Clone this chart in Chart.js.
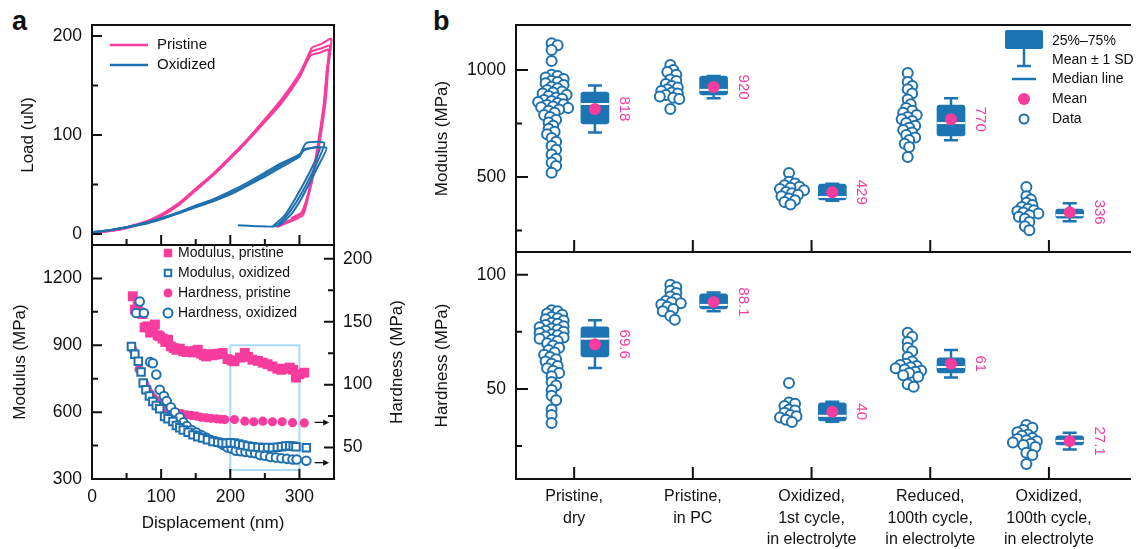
<!DOCTYPE html>
<html>
<head>
<meta charset="utf-8">
<script src="https://cdn.jsdelivr.net/npm/chart.js@4/dist/chart.umd.min.js"></script>
<style>
  html, body { margin: 0; padding: 0; background: #fff; }
  body { width: 1137px; height: 549px; position: relative; overflow: hidden; font-family: "Liberation Sans", Arial, sans-serif; }
  canvas { position: absolute; }
  .tag { position: absolute; font-weight: bold; font-size: 27px; line-height: 27px; color: #111; }
</style>
</head>
<body>
<div class="tag" style="left:12px;top:8px">a</div>
<div class="tag" style="left:433px;top:8px">b</div>
<canvas id="loadChart" width="345" height="275" style="left:0;top:0"></canvas>
<canvas id="depthChart" width="420" height="334" style="left:0;top:215px"></canvas>
<canvas id="modulusChart" width="717" height="282" style="left:420px;top:0"></canvas>
<canvas id="hardnessChart" width="717" height="327" style="left:420px;top:222px"></canvas>
<script>
const pink = '#f73c9d';
const blue = '#1f70ae';
const boxBlue = '#1c74b3';
const zoomBlue = '#a9dbf4';
const FONT = '"Liberation Sans", Arial, Helvetica, sans-serif';

// ---- panel a, top: load-displacement runs [nm, uN] ----
const pristineRun1 = [[0,1],[25,3],[50,7],[75,12],[100,19],[125,30],[150,45],[175,60],[200,77],[225,95],[250,115],[275,135],[300,160],[318,188],[332,192],[346,197],[342,170],[338,135],[331,100],[322,65],[313,38],[305,19],[285,12],[267,7]];
const pristineRun2 = [[0,1],[25,3],[50,7],[75,12],[100,20],[125,31],[150,46],[175,61],[200,78],[225,96],[250,116],[275,137],[300,162],[317,184],[330,187],[344,190],[340,165],[336,132],[329,98],[321,64],[312,38],[304,21],[286,14],[270,9]];
const pristineRun3 = [[0,1],[25,3],[50,6],[75,11],[100,18],[125,29],[150,44],[175,59],[200,76],[225,94],[250,113],[275,133],[300,158],[316,180],[329,183],[342,186],[339,162],[335,130],[328,97],[320,63],[311,37],[303,22],[288,16]];
const oxidizedRun1 = [[0,2],[25,4],[50,7],[75,11],[100,16],[125,21],[150,28],[175,34],[200,41],[225,50],[250,60],[275,70],[300,80],[310,92],[336,92],[324,70],[310,50],[297,34],[281,18],[265,8],[240,8],[211,9]];
const oxidizedRun2 = [[0,2],[25,4],[50,7],[75,11],[100,16],[125,22],[150,29],[175,35],[200,43],[225,52],[250,62],[275,72],[302,81],[308,86],[339,87],[328,70],[315,52],[303,36],[288,20],[270,8]];
const oxidizedRun3 = [[0,2],[25,4],[50,7],[75,10],[100,15],[125,21],[150,27],[175,33],[200,40],[225,49],[250,58],[275,68],[300,78],[305,84],[330,88],[320,70],[307,52],[294,36],[280,20],[262,8]];

// ---- panel a, bottom: modulus / hardness vs displacement [nm, MPa] ----
const modPristine = [[59,1120],[62,1060],[66,1075],[69,1047],[73,1040],[76,980],[80,985],[84,957],[88,975],[91,993],[95,945],[98,940],[102,930],[106,915],[110,925],[114,895],[118,888],[122,880],[127,885],[132,873],[137,870],[141,873],[146,868],[150,875],[153,880],[158,862],[162,855],[165,850],[170,860],[174,855],[177,858],[182,862],[186,860],[189,865],[196,838],[202,832],[206,828],[214,845],[221,866],[226,848],[232,835],[240,830],[247,822],[254,815],[261,805],[268,795],[274,790],[280,795],[286,800],[291,790],[295,755],[300,770],[307,777]];
const modOxidized = [[57,895],[62,860],[67,828],[71,780],[74,731],[78,700],[83,672],[88,648],[93,630],[98,615],[105,580],[110,570],[117,558],[122,540],[127,530],[132,520],[139,510],[146,498],[153,490],[160,484],[167,476],[175,468],[182,465],[188,462],[194,460],[200,463],[206,462],[212,457],[218,453],[225,448],[232,445],[240,442],[247,440],[254,441],[261,440],[268,443],[274,445],[280,448],[286,449],[291,447],[295,445],[310,440]];
const hardPristine = [[59,128],[68,112],[76,101],[80,97],[84,93],[88,90],[91,88],[96,85],[100,83],[105,81],[110,79],[116,78],[122,77.5],[129,77],[137,76],[144,75.5],[151,75],[158,74],[165,73.6],[172,73.2],[180,72.8],[186,72.5],[192,72.2],[206,72.2],[221,71],[234,70.5],[247,71],[261,70.5],[275,70.5],[290,69.8],[307,69.6]];
const hardOxidized = [[64,157],[69,166],[75,157],[84,118],[88,117],[93,108],[98,96],[104,91],[108,87],[114,82],[120,78],[127,74],[132,70],[137,67],[144,64],[151,62],[158,60],[165,58],[172,56],[178,55],[184,54],[190,52],[196,50],[202,49],[208,47.5],[215,47],[222,46.5],[229,46],[236,45.5],[243,44],[250,43.5],[258,42.5],[266,42],[274,41.5],[282,41],[290,40.5],[296,40.5],[310,39.5]];
const zoomWindow = { disp: [200, 300], modulus: [340, 900] };
const hardnessArrows = [70, 38];

// ---- panel a ticks ----
const dispTicks = [0, 100, 200, 300];
const dispMinor = [50, 150, 250];
const loadTicks = [0, 100, 200];
const loadMinor = [50, 150];
const modTicksA = [300, 600, 900, 1200];
const modMinorA = [450, 750, 1050];
const hardTicksA = [50, 100, 150, 200];
const hardMinorA = [75, 125, 175];

// ---- panel b: categories and statistics ----
const categories = [['Pristine,', 'dry'], ['Pristine,', 'in PC'], ['Oxidized,', '1st cycle,', 'in electrolyte'], ['Reduced,', '100th cycle,', 'in electrolyte'], ['Oxidized,', '100th cycle,', 'in electrolyte']];
const modulusData = [
  [1125, 1115, 1093, 1042, 978, 972, 965, 958, 950, 944, 938, 930, 922, 915, 906, 900, 895, 890, 884, 878, 872, 866, 860, 855, 850, 846, 840, 836, 830, 826, 822, 816, 810, 800, 790, 780, 768, 755, 740, 725, 712, 700, 682, 665, 645, 628, 605, 585, 568, 552, 520],
  [1023, 1000, 990, 978, 955, 948, 935, 925, 918, 910, 902, 895, 890, 883, 876, 870, 864, 818],
  [519, 478, 470, 462, 455, 450, 444, 438, 430, 424, 417, 410, 400, 392, 383, 372],
  [986, 944, 925, 910, 890, 862, 840, 822, 810, 800, 790, 780, 770, 762, 752, 740, 730, 720, 708, 696, 685, 673, 655, 640, 594],
  [453, 410, 395, 380, 370, 360, 352, 345, 340, 335, 330, 322, 315, 305, 290, 270, 252]
];
const modulusMean = [818, 920, 429, 770, 336];
const modulusSD = [110, 52, 40, 98, 42];
const modulusQ1 = [748, 883, 393, 692, 308];
const modulusQ3 = [897, 972, 467, 836, 350];
const modulusMedian = [841, 907, 407, 752, 322];
const modulusTicks = [500, 1000];
const modulusMinor = [250, 750];

const hardnessData = [
  [84.5, 84, 83, 82.5, 81.5, 81, 80.5, 80, 79, 78.5, 78, 77.5, 77, 76.5, 76, 75.5, 75, 74.5, 74, 73.5, 73, 72.5, 72, 71.5, 71, 70, 69, 68, 67, 66, 65, 64, 63, 62, 61, 60, 59, 58, 57, 55.5, 53, 51.5, 49.5, 47, 45, 41, 38.5, 35],
  [95.6, 94.5, 93, 92, 90.5, 89.5, 88.5, 88, 87.5, 87, 86, 85, 84, 82, 80.3],
  [52.6, 44, 43.5, 42.5, 41, 40.5, 39.5, 38.5, 38, 37.5, 36.5, 35.5],
  [74.6, 72.8, 70.5, 68, 66.5, 64, 62, 61, 60.5, 60, 59.5, 59, 58.5, 58, 57.5, 57, 56, 55.3, 52, 50.9],
  [34.2, 33, 32, 31, 30, 29.5, 28.5, 28, 27.5, 27, 26.5, 26, 25.4, 24.5, 22, 21, 17.1]
];
const hardnessMean = [69.6, 88.1, 40, 61, 27.1];
const hardnessSD = [10.5, 4.1, 4.4, 6, 3.7];
const hardnessQ1 = [64, 85, 36, 57, 25.4];
const hardnessQ3 = [77.2, 91.7, 43.9, 63.6, 29.4];
const hardnessMedian = [72, 86.8, 38.2, 59.6, 27.2];
const hardnessTicks = [50, 100];
const hardnessMinor = [25, 75];

const swarmShift = -0.19;
const boxShift = 0.175;
const labelShift = 0.42;

// frame + inward ticks
const framePlugin = {
  id: 'frame',
  afterDraw(chart, args, o) {
    const { ctx, chartArea: a } = chart;
    ctx.save();
    ctx.strokeStyle = '#111';
    ctx.lineWidth = 2;
    ctx.beginPath();
    const s = o.sides || 'tlbr';
    if (s.includes('t')) { ctx.moveTo(a.left - 1, a.top); ctx.lineTo(a.right + 1, a.top); }
    if (s.includes('b')) { ctx.moveTo(a.left - 1, a.bottom); ctx.lineTo(a.right + 1, a.bottom); }
    if (s.includes('l')) { ctx.moveTo(a.left, a.top - 1); ctx.lineTo(a.left, a.bottom + 1); }
    if (s.includes('r')) { ctx.moveTo(a.right, a.top - 1); ctx.lineTo(a.right, a.bottom + 1); }
    (o.ticks || []).forEach(t => {
      const sc = chart.scales[t.scale];
      [[t.major, o.major || 10], [t.minor || [], o.minor || 6]].forEach(([vals, len]) => vals.forEach(v => {
        const p = sc.getPixelForValue(v);
        if (t.edge === 'bottom') { ctx.moveTo(p, a.bottom); ctx.lineTo(p, a.bottom - len); }
        if (t.edge === 'left') { ctx.moveTo(a.left, p); ctx.lineTo(a.left + len, p); }
        if (t.edge === 'right') { ctx.moveTo(a.right, p); ctx.lineTo(a.right - len, p); }
      }));
    });
    ctx.stroke();
    ctx.restore();
  }
};

const tickFont = { family: FONT, size: 17.5 };
const titleFont = { family: FONT, size: 17 };
const setTicks = arr => scale => { scale.ticks = arr.map(v => ({ value: v })); };
const plain = v => String(v);
const noGrid = { display: false, drawTicks: false };

function legendText(ctx, text, x, y, size) {
  ctx.fillStyle = '#111';
  ctx.font = size + 'px ' + FONT;
  ctx.textAlign = 'left';
  ctx.textBaseline = 'middle';
  ctx.fillText(text, x, y);
}

// ---------------- panel a top ----------------
const runStyle = (data, color) => ({
  data: data.map(([x, y]) => ({ x, y })), showLine: true, borderColor: color, borderWidth: 2,
  pointRadius: 0, tension: 0.2, fill: false
});
new Chart(document.getElementById('loadChart'), {
  type: 'scatter',
  data: { datasets: [
    runStyle(oxidizedRun1, blue), runStyle(oxidizedRun2, blue), runStyle(oxidizedRun3, blue),
    runStyle(pristineRun1, pink), runStyle(pristineRun2, pink), runStyle(pristineRun3, pink)
  ] },
  options: {
    responsive: false, animation: false, events: [],
    layout: { padding: { top: 25, right: 11, bottom: 30, left: 0 } },
    plugins: {
      legend: { display: false }, tooltip: { enabled: false },
      frame: { ticks: [{ scale: 'x', edge: 'bottom', major: dispTicks, minor: dispMinor }, { scale: 'y', edge: 'left', major: loadTicks, minor: loadMinor }] }
    },
    scales: {
      x: { type: 'linear', min: 0, max: 350, display: false },
      y: {
        min: -11, max: 211, grid: noGrid, border: { display: false },
        afterBuildTicks: setTicks(loadTicks), afterFit: s => { s.width = 92; },
        ticks: { font: tickFont, color: '#111', padding: 10, callback: plain },
        title: { display: true, text: 'Load (uN)', font: titleFont, color: '#111', padding: { top: 18, bottom: 0 } }
      }
    }
  },
  plugins: [framePlugin, {
    id: 'loadLegend',
    afterDraw(chart) {
      const ctx = chart.ctx;
      [['Pristine', pink, 45], ['Oxidized', blue, 65]].forEach(([t, c, y]) => {
        ctx.save();
        ctx.strokeStyle = c; ctx.lineWidth = 2.5;
        ctx.beginPath(); ctx.moveTo(110, y); ctx.lineTo(148, y); ctx.stroke();
        legendText(ctx, t, 157, y, 15);
        ctx.restore();
      });
    }
  }]
});

// ---------------- panel a bottom ----------------
const depthSets = [
  { label: 'Modulus, oxidized', data: modOxidized.map(([x, y]) => ({ x, y })), yAxisID: 'y', pointStyle: 'rect', pointRadius: 5.3, pointBorderWidth: 2, pointBorderColor: blue, pointBackgroundColor: '#fff' },
  { label: 'Hardness, oxidized', data: hardOxidized.map(([x, y]) => ({ x, y })), yAxisID: 'y2', pointStyle: 'circle', pointRadius: 4.3, pointBorderWidth: 2, pointBorderColor: blue, pointBackgroundColor: '#fff' },
  { label: 'Modulus, pristine', data: modPristine.map(([x, y]) => ({ x, y })), yAxisID: 'y', pointStyle: 'rect', pointRadius: 7, pointBorderWidth: 0, pointBorderColor: pink, pointBackgroundColor: pink },
  { label: 'Hardness, pristine', data: hardPristine.map(([x, y]) => ({ x, y })), yAxisID: 'y2', pointStyle: 'circle', pointRadius: 4.6, pointBorderWidth: 0, pointBorderColor: pink, pointBackgroundColor: pink }
];
new Chart(document.getElementById('depthChart'), {
  type: 'scatter',
  data: { datasets: depthSets },
  options: {
    responsive: false, animation: false, events: [],
    layout: { padding: { top: 30, right: 0, bottom: 0, left: 0 } },
    plugins: {
      legend: { display: false }, tooltip: { enabled: false },
      frame: { ticks: [
        { scale: 'x', edge: 'bottom', major: dispTicks, minor: dispMinor },
        { scale: 'y', edge: 'left', major: modTicksA, minor: modMinorA },
        { scale: 'y2', edge: 'right', major: hardTicksA, minor: hardMinorA }
      ] }
    },
    scales: {
      x: {
        type: 'linear', min: 0, max: 350, grid: noGrid, border: { display: false },
        afterBuildTicks: setTicks(dispTicks), afterFit: s => { s.height = 70; },
        ticks: { font: tickFont, color: '#111', padding: 8, maxRotation: 0, callback: plain },
        title: { display: true, text: 'Displacement (nm)', font: titleFont, color: '#111', padding: { top: 0, bottom: 15 } }
      },
      y: {
        position: 'left', min: 300, max: 1350, grid: noGrid, border: { display: false },
        afterBuildTicks: setTicks(modTicksA), afterFit: s => { s.width = 92; },
        ticks: { font: tickFont, color: '#111', padding: 10, callback: plain },
        title: { display: true, text: 'Modulus (MPa)', font: titleFont, color: '#111', padding: { top: 10, bottom: 0 } }
      },
      y2: {
        position: 'right', min: 25, max: 211, grid: noGrid, border: { display: false },
        afterBuildTicks: setTicks(hardTicksA), afterFit: s => { s.width = 86; },
        ticks: { font: tickFont, color: '#111', padding: 9, callback: plain }
      }
    }
  },
  plugins: [framePlugin, {
    id: 'depthExtras',
    beforeDatasetsDraw(chart) {
      const { ctx, scales: { x, y } } = chart;
      ctx.save();
      ctx.strokeStyle = zoomBlue; ctx.lineWidth = 2;
      const x0 = x.getPixelForValue(zoomWindow.disp[0]), x1 = x.getPixelForValue(zoomWindow.disp[1]);
      const y0 = y.getPixelForValue(zoomWindow.modulus[1]), y1 = y.getPixelForValue(zoomWindow.modulus[0]);
      ctx.strokeRect(x0, y0, x1 - x0, y1 - y0);
      ctx.restore();
    },
    afterDraw(chart) {
      const { ctx, chartArea: a, scales: { x, y2 } } = chart;
      ctx.save();
      // arrows pointing to the hardness axis
      ctx.strokeStyle = '#111'; ctx.fillStyle = '#111'; ctx.lineWidth = 1.3;
      hardnessArrows.forEach(v => {
        const py = y2.getPixelForValue(v);
        const xs = x.getPixelForValue(322), xe = x.getPixelForValue(343);
        ctx.beginPath(); ctx.moveTo(xs, py); ctx.lineTo(xe - 4, py); ctx.stroke();
        ctx.beginPath(); ctx.moveTo(xe, py); ctx.lineTo(xe - 6, py - 3); ctx.lineTo(xe - 6, py + 3); ctx.closePath(); ctx.fill();
      });
      // right axis title, reading bottom to top
      ctx.translate(397, (a.top + a.bottom) / 2);
      ctx.rotate(-Math.PI / 2);
      ctx.font = '17px ' + FONT; ctx.textAlign = 'center'; ctx.textBaseline = 'middle'; ctx.fillStyle = '#111';
      ctx.fillText('Hardness (MPa)', 0, 0);
      ctx.restore();
      // legend
      const rows = [2, 0, 3, 1];
      rows.forEach((di, k) => {
        const ds = depthSets[di];
        const yy = a.top + 8 + k * 20;
        ctx.save();
        ctx.fillStyle = ds.pointBackgroundColor;
        ctx.strokeStyle = ds.pointBorderColor;
        ctx.lineWidth = ds.pointBorderWidth || 0;
        Chart.helpers.drawPoint(ctx, {
          pointStyle: ds.pointStyle, radius: ds.pointStyle === 'rect' ? (ds.pointBorderWidth ? 4.6 : 6) : 4.5,
          borderWidth: ds.pointBorderWidth, rotation: 0
        }, 168, yy);
        ctx.restore();
        legendText(ctx, ds.label, 178, yy, 14);
      });
    }
  }]
});

// ---------------- panel b ----------------
function swarm(chart, dsIndex, center) {
  const xs = chart.scales.x, ys = chart.scales.y;
  const pts = chart.data.datasets[dsIndex].data;
  const cx = xs.getPixelForValue(center);
  const placed = [];
  const d = 5.5;
  pts.map((p, i) => ({ i, py: ys.getPixelForValue(p.y) }))
    .sort((a, b) => a.py - b.py)
    .forEach(o => {
      let off = 0;
      for (let k = 0; k < 80; k++) {
        const cand = k === 0 ? 0 : (k % 2 ? 1 : -1) * Math.ceil(k / 2) * 1.5;
        if (placed.every(q => Math.hypot(q.x - cand, q.y - o.py) >= d)) { off = cand; break; }
      }
      placed.push({ x: off, y: o.py });
      pts[o.i].x = xs.getValueForPixel(cx + off);
    });
}

function boxPanel(canvasId, cfg) {
  const datasets = cfg.points.map((vals, i) => ({
    type: 'scatter', data: vals.map(v => ({ x: i + swarmShift, y: v })),
    pointRadius: 5, pointBorderWidth: 2, pointBorderColor: blue, pointBackgroundColor: '#fff', order: 5
  }));
  const boxIndex = datasets.length;
  datasets.push({
    type: 'bar', data: cfg.q1.map((q, i) => ({ x: i + boxShift, y: [q, cfg.q3[i]] })),
    backgroundColor: boxBlue, barThickness: 28, borderRadius: 3, borderSkipped: false, order: 3
  });
  datasets.push({
    type: 'scatter', data: cfg.mean.map((m, i) => ({ x: i + boxShift, y: m })),
    pointRadius: 6, pointBorderWidth: 0, pointBackgroundColor: pink, order: 1
  });
  const extras = {
    id: 'boxExtras',
    beforeDatasetDraw(chart, args) {
      if (args.index !== boxIndex) return;
      const { ctx, scales: { x, y } } = chart;
      ctx.save();
      ctx.strokeStyle = boxBlue; ctx.lineWidth = 2.5;
      cfg.mean.forEach((m, i) => {
        const px = x.getPixelForValue(i + boxShift);
        const top = y.getPixelForValue(m + cfg.sd[i]), bot = y.getPixelForValue(m - cfg.sd[i]);
        ctx.beginPath();
        ctx.moveTo(px, top); ctx.lineTo(px, bot);
        ctx.moveTo(px - 7, top); ctx.lineTo(px + 7, top);
        ctx.moveTo(px - 7, bot); ctx.lineTo(px + 7, bot);
        ctx.stroke();
      });
      ctx.restore();
    },
    afterDatasetDraw(chart, args) {
      if (args.index !== boxIndex) return;
      const { ctx, scales: { x, y } } = chart;
      ctx.save();
      ctx.strokeStyle = '#fff'; ctx.lineWidth = 2;
      cfg.median.forEach((m, i) => {
        const px = x.getPixelForValue(i + boxShift), py = y.getPixelForValue(m);
        ctx.beginPath(); ctx.moveTo(px - 14, py); ctx.lineTo(px + 14, py); ctx.stroke();
      });
      ctx.restore();
    },
    afterDatasetsDraw(chart) {
      const { ctx, scales: { x, y } } = chart;
      ctx.save();
      ctx.fillStyle = pink; ctx.font = '15px ' + FONT; ctx.textAlign = 'center'; ctx.textBaseline = 'middle';
      cfg.mean.forEach((m, i) => {
        ctx.save();
        ctx.translate(x.getPixelForValue(i + labelShift), y.getPixelForValue(m));
        ctx.rotate(Math.PI / 2);
        ctx.fillText(String(m), 0, 0);
        ctx.restore();
      });
      ctx.restore();
    }
  };
  const xScale = {
    type: 'linear', offset: false, min: -0.49, max: 4.683, display: cfg.showX, grid: noGrid, border: { display: false },
    afterBuildTicks: setTicks([0, 1, 2, 3, 4]),
    ticks: { font: { family: FONT, size: 16, lineHeight: 1.35 }, color: '#111', padding: 7, maxRotation: 0, autoSkip: false, callback: v => categories[v] }
  };
  if (cfg.showX) xScale.afterFit = s => { s.height = 70; };
  const chart = new Chart(document.getElementById(canvasId), {
    type: 'scatter',
    data: { datasets },
    options: {
      responsive: false, animation: false, events: [],
      layout: { padding: cfg.padding },
      plugins: {
        legend: { display: false }, tooltip: { enabled: false },
        frame: { sides: 'tlb', major: 12, minor: 6, ticks: [
          { scale: 'x', edge: 'bottom', major: [0, 1, 2, 3, 4] },
          { scale: 'y', edge: 'left', major: cfg.ticks, minor: cfg.minor }
        ] }
      },
      scales: {
        x: xScale,
        y: {
          min: cfg.min, max: cfg.max, grid: noGrid, border: { display: false },
          afterBuildTicks: setTicks(cfg.ticks), afterFit: s => { s.width = 96; },
          ticks: { font: tickFont, color: '#111', padding: 10, callback: plain },
          title: { display: true, text: cfg.title, font: titleFont, color: '#111', padding: { top: 12, bottom: 0 } }
        }
      }
    },
    plugins: [framePlugin, extras].concat(cfg.more || [])
  });
  cfg.points.forEach((_, i) => swarm(chart, i, i + swarmShift));
  chart.update('none');
  return chart;
}

const boxLegend = {
  id: 'boxLegend',
  afterDraw(chart) {
    const ctx = chart.ctx;
    ctx.save();
    ctx.fillStyle = boxBlue; ctx.strokeStyle = boxBlue; ctx.lineWidth = 2.5;
    ctx.beginPath(); ctx.roundRect(585, 30, 38, 19, 2); ctx.fill();
    ctx.beginPath(); ctx.moveTo(604, 49); ctx.lineTo(604, 66); ctx.moveTo(597, 66); ctx.lineTo(611, 66);
    ctx.moveTo(592, 79); ctx.lineTo(616, 79); ctx.stroke();
    ctx.fillStyle = pink; ctx.beginPath(); ctx.arc(604, 99, 6, 0, Math.PI * 2); ctx.fill();
    ctx.fillStyle = '#fff'; ctx.strokeStyle = blue; ctx.lineWidth = 2;
    ctx.beginPath(); ctx.arc(604, 119, 4.5, 0, Math.PI * 2); ctx.fill(); ctx.stroke();
    ctx.restore();
    [['25%\u201375%', 41], ['Mean \u00b1 1 SD', 60], ['Median line', 79], ['Mean', 99], ['Data', 119]]
      .forEach(([t, yy]) => legendText(ctx, t, 632, yy, 14));
  }
};

boxPanel('modulusChart', {
  points: modulusData, mean: modulusMean, sd: modulusSD, q1: modulusQ1, q3: modulusQ3, median: modulusMedian,
  ticks: modulusTicks, minor: modulusMinor, min: 150, max: 1210, title: 'Modulus (MPa)', showX: false,
  padding: { top: 25, right: 0, bottom: 30, left: 0 }, more: [boxLegend]
});
boxPanel('hardnessChart', {
  points: hardnessData, mean: hardnessMean, sd: hardnessSD, q1: hardnessQ1, q3: hardnessQ3, median: hardnessMedian,
  ticks: hardnessTicks, minor: hardnessMinor, min: 10.5, max: 110, title: 'Hardness (MPa)', showX: true,
  padding: { top: 30, right: 0, bottom: 0, left: 0 }
});
</script>
</body>
</html>
